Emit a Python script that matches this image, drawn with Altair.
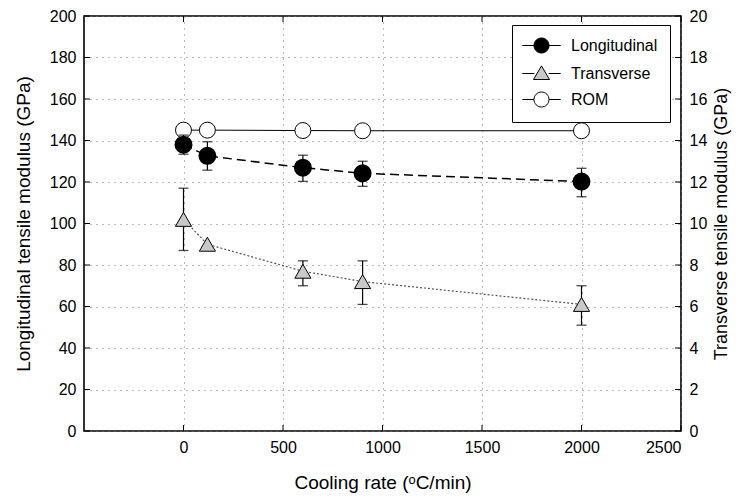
import altair as alt
import pandas as pd

# ---- data ----
cooling = [0, 120, 600, 900, 2000]
long_mean = [138.0, 132.6, 126.9, 124.2, 120.2]
long_lo = [133.4, 125.7, 120.3, 117.9, 112.9]
long_hi = [142.6, 139.4, 132.9, 130.0, 126.6]

trans_mean = [10.2, 9.0, 7.7, 7.2, 6.1]
trans_err_x = [0, 600, 900, 2000]
trans_lo = [8.7, 7.0, 6.1, 5.1]
trans_hi = [11.7, 8.2, 8.2, 7.0]

rom = [145.0, 145.0, 144.8, 144.7, 144.7]

series_names = ["Longitudinal", "Transverse", "\u00a0\u00a0\u00a0ROM"]

x_ticks = [0, 500, 1000, 1500, 2000, 2500]
y_ticks = [0, 20, 40, 60, 80, 100, 120, 140, 160, 180, 200]
y2_ticks = [0, 2, 4, 6, 8, 10, 12, 14, 16, 18, 20]

W, H = 597, 415
FONT = "Liberation Sans"

df_long = pd.DataFrame({"x": cooling, "y": long_mean, "lo": long_lo, "hi": long_hi})
df_rom = pd.DataFrame({"x": cooling, "y": rom})
df_trans = pd.DataFrame({"x": cooling, "y": trans_mean})
df_terr = pd.DataFrame({"x": trans_err_x, "lo": trans_lo, "hi": trans_hi})
df_legend = pd.DataFrame({"name": series_names})
df_xt = pd.DataFrame({"x": x_ticks})
df_yt = pd.DataFrame({"y": y_ticks})
df_y2t = pd.DataFrame({"y": y2_ticks})

xscale = alt.Scale(domain=[-500, 2500], nice=False, zero=False)
yscale = alt.Scale(domain=[0, 200], nice=False)
y2scale = alt.Scale(domain=[0, 20], nice=False)

xaxis = alt.Axis(values=x_ticks, format="d", grid=True, ticks=False, domain=False,
                 labelPadding=8, titlePadding=18)
XTITLE = "Cooling rate (\u1d52C/min)"
yaxis = alt.Axis(values=y_ticks, grid=True, ticks=False, domain=False, labelPadding=8,
                 titlePadding=16, orient="left")
YTITLE = "Longitudinal tensile modulus (GPa)"
y2axis = alt.Axis(values=y2_ticks, grid=False, ticks=False, domain=False, labelPadding=8,
                  titlePadding=6, orient="right", titleAngle=270, titleBaseline="top",
                  titleFontSize=18)
Y2TITLE = "Transverse tensile modulus (GPa)"


def X(field="x"):
    return alt.X(f"{field}:Q", scale=xscale, axis=xaxis, title=XTITLE)


def Y(field):
    return alt.Y(f"{field}:Q", scale=yscale, axis=yaxis, title=YTITLE)


def Y2(field):
    return alt.Y(f"{field}:Q", scale=y2scale, axis=y2axis, title=Y2TITLE)


# ----- left group -----
rom_line = alt.Chart(df_rom).mark_line(color="black", strokeWidth=1).encode(x=X(), y=Y("y"))
rom_pts = alt.Chart(df_rom).mark_point(shape="circle", size=256, filled=True, fill="white",
                                       stroke="black", strokeWidth=1, opacity=1).encode(
    x=X(), y=Y("y"))

long_line = alt.Chart(df_long).mark_line(color="black", strokeWidth=1.5,
                                         strokeDash=[9, 5]).encode(x=X(), y=Y("y"))
long_err = alt.Chart(df_long).mark_rule(color="black", strokeWidth=1.2).encode(
    x=X(), y=Y("lo"), y2="hi:Q")
long_cap_lo = alt.Chart(df_long).mark_tick(color="black", orient="horizontal", size=10,
                                           thickness=1.3).encode(x=X(), y=Y("lo"))
long_cap_hi = alt.Chart(df_long).mark_tick(color="black", orient="horizontal", size=10,
                                           thickness=1.3).encode(x=X(), y=Y("hi"))
long_pts = alt.Chart(df_long).mark_point(shape="circle", size=256, filled=True, fill="black",
                                         stroke="black", opacity=1).encode(x=X(), y=Y("y"))

# inward ticks
tick_bottom = alt.Chart(df_xt).mark_rule(color="black", strokeWidth=1).encode(
    x=X(), y=alt.value(H), y2=alt.value(H - 6))
tick_top = alt.Chart(df_xt).mark_rule(color="black", strokeWidth=1).encode(
    x=X(), y=alt.value(0), y2=alt.value(6))
tick_left = alt.Chart(df_yt).mark_rule(color="black", strokeWidth=1).encode(
    y=Y("y"), x=alt.value(0), x2=alt.value(6))

# legend (empty layer, legend built from explicit domain); 1 unit = 8 px
circ = "M-2.4,0H-0.94M0.94,0H2.4M-0.94,0A0.94,0.94 0 1 0 0.94,0A0.94,0.94 0 1 0 -0.94,0Z"
tri = "M-2.4,0H-0.9M0.9,0H2.4M0,-0.95L1,0.75L-1,0.75Z"
leg = alt.Legend(title=None, orient="none", legendX=428, legendY=9, padding=12,
                 strokeColor="black", fillColor="white", labelFont=FONT, labelFontSize=16,
                 symbolSize=256, symbolStrokeWidth=1,
                 symbolOpacity=1, symbolOffset=9, labelOffset=21, rowPadding=7,
                 cornerRadius=0, labelColor="black")
legend_layer = alt.Chart(df_legend).mark_point(filled=True, opacity=1, strokeWidth=1).encode(
    shape=alt.Shape("name:N", scale=alt.Scale(domain=series_names, range=[circ, tri, circ]),
                    legend=leg, sort=series_names),
    fill=alt.Fill("name:N", scale=alt.Scale(domain=series_names,
                                            range=["black", "#c9c9c9", "white"]),
                  legend=leg, sort=series_names),
    stroke=alt.Stroke("name:N", scale=alt.Scale(domain=series_names,
                                                range=["black", "black", "black"]),
                      legend=leg, sort=series_names),
).transform_filter("false")

left = alt.layer(rom_line, rom_pts, long_line, long_err, long_cap_lo, long_cap_hi,
                 long_pts, tick_bottom, tick_top, tick_left, legend_layer)

# ----- right group -----
trans_line = alt.Chart(df_trans).mark_line(color="#555555", strokeWidth=1.2,
                                           strokeDash=[2, 2]).encode(x=X(), y=Y2("y"))
trans_err = alt.Chart(df_terr).mark_rule(color="black", strokeWidth=1.2).encode(
    x=X(), y=Y2("lo"), y2="hi:Q")
trans_cap_lo = alt.Chart(df_terr).mark_tick(color="black", orient="horizontal", size=10,
                                            thickness=1.3).encode(x=X(), y=Y2("lo"))
trans_cap_hi = alt.Chart(df_terr).mark_tick(color="black", orient="horizontal", size=10,
                                            thickness=1.3).encode(x=X(), y=Y2("hi"))
trans_pts = alt.Chart(df_trans).mark_point(shape="triangle-up", size=260, filled=True,
                                           fill="#c9c9c9", stroke="black", strokeWidth=1,
                                           opacity=1).encode(x=X(), y=Y2("y"))
tick_right = alt.Chart(df_y2t).mark_rule(color="black", strokeWidth=1).encode(
    y=Y2("y"), x=alt.value(W - 6), x2=alt.value(W))

right = alt.layer(trans_line, trans_err, trans_cap_lo, trans_cap_hi, trans_pts, tick_right)

chart = alt.layer(left, right).resolve_scale(y="independent").properties(
    width=W, height=H,
    background="white",
    autosize=alt.AutoSizeParams(type="none"),
    padding={"left": 76, "top": 8, "right": 52, "bottom": 62},
).configure_view(stroke="black", strokeWidth=1.6).configure_axis(
    labelFont=FONT, labelFontSize=16, labelColor="black",
    titleFont=FONT, titleFontSize=19, titleFontWeight="normal", titleColor="black",
    gridColor="#777777", gridDash=[1, 5], gridWidth=1,
)

chart.save("out.html", embed_options={"renderer": "svg", "actions": False})
